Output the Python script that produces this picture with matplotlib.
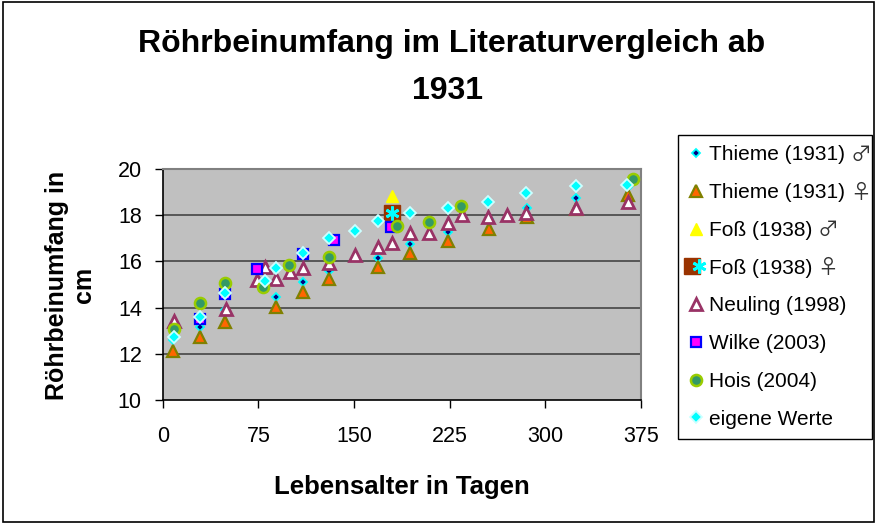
import matplotlib
matplotlib.use("Agg")
import matplotlib.pyplot as plt
from matplotlib.patches import Rectangle
from matplotlib.legend_handler import HandlerTuple

plt.rcParams['font.family'] = ['Liberation Sans', 'DejaVu Sans']

# Circumference data (cm) over age (days)
thieme_m_days = [8, 29, 49, 89, 110, 130, 169, 194, 224, 256, 286, 324, 365]
thieme_m_vals = [12.6, 13.17, 13.9, 14.47, 15.12, 15.6, 16.13, 16.75, 17.29, 17.85, 18.32, 18.76, 19.24]

thieme_w_days = [8, 29, 49, 89, 110, 130, 169, 194, 224, 256, 286, 324, 365]
thieme_w_vals = [12.12, 12.71, 13.39, 14.01, 14.69, 15.22, 15.74, 16.35, 16.88, 17.39, 17.92, 18.25, 18.87]

foss_m_days = [180]
foss_m_vals = [18.83]

foss_w_days = [180]
foss_w_vals = [18.11]

neuling_days = [9, 50, 74, 80, 89, 100, 110, 130, 151, 169, 180, 194, 209, 224, 235, 255, 270, 285, 324, 365]
neuling_vals = [13.42, 13.93, 15.19, 15.74, 15.22, 15.56, 15.73, 15.92, 16.28, 16.61, 16.81, 17.24, 17.21,
                17.68, 18.0, 17.91, 18.0, 18.08, 18.3, 18.58]

wilke_days = [29, 49, 74, 110, 134, 179]
wilke_vals = [13.52, 14.59, 15.66, 16.32, 16.93, 17.48]

hois_days = [9, 29, 49, 79, 99, 130, 184, 209, 234, 369]
hois_vals = [13.07, 14.19, 15.05, 14.88, 15.84, 16.17, 17.53, 17.72, 18.41, 19.55]

eigene_days = [9, 29, 49, 80, 89, 110, 130, 151, 169, 194, 224, 255, 285, 324, 364]
eigene_vals = [12.74, 13.6, 14.65, 15.17, 15.7, 16.38, 17.0, 17.32, 17.76, 18.11, 18.3, 18.56, 18.97, 19.26, 19.31]

# Series names and the sex sign that follows some of them
series_names = ["Thieme (1931)", "Thieme (1931)", "Fo\u00df (1938)", "Fo\u00df (1938)",
                "Neuling (1998)", "Wilke (2003)", "Hois (2004)", "eigene Werte"]
sex_signs = ["\u2642", "\u2640", "\u2642", "\u2640", "", "", "", ""]

x_ticks = [0, 75, 150, 225, 300, 375]
y_ticks = [10, 12, 14, 16, 18, 20]

W, H = 877, 524
fig = plt.figure(figsize=(W / 100, H / 100), dpi=100)
fig.patch.set_facecolor('white')
fig.add_artist(Rectangle((0.003, 0.004), 0.994, 0.992, transform=fig.transFigure,
                         fill=False, edgecolor='black', linewidth=1.2))

ax = fig.add_axes([162.7 / W, 1 - 400 / H, (641 - 162.7) / W, (400 - 169) / H])
ax.set_facecolor('#C0C0C0')
ax.set_xlim(0, 375)
ax.set_ylim(10, 20)
ax.set_xticks(x_ticks)
ax.set_yticks(y_ticks)
ax.tick_params(axis='both', direction='out', length=6, width=1, labelsize=15.5, colors='black')
ax.tick_params(axis='x', pad=13)
ax.tick_params(axis='y', pad=9)
for y in y_ticks[1:-1]:
    ax.axhline(y, color='#3a3a3a', linewidth=1.1, zorder=1)
for side in ['top', 'right']:
    ax.spines[side].set_color('#808080')
    ax.spines[side].set_linewidth(1.5)
for side in ['left', 'bottom']:
    ax.spines[side].set_color('black')
    ax.spines[side].set_linewidth(1.2)

h1, = ax.plot(thieme_m_days, thieme_m_vals, ls='none', marker='D', ms=4.5,
              mfc='#000080', mec='#00FFFF', mew=1.3, zorder=3)
h2, = ax.plot(thieme_w_days, thieme_w_vals, ls='none', marker='^', ms=8,
              mfc='#FF6600', mec='#808000', mew=1.6, zorder=4)
h3, = ax.plot(foss_m_days, foss_m_vals, ls='none', marker='^', ms=9,
              mfc='#FFFF00', mec='#FFFF00', mew=1, zorder=5)
h4a, = ax.plot(foss_w_days, foss_w_vals, ls='none', marker='s', ms=12,
               mfc='#993300', mec='#993300', mew=1, zorder=6)
h4b, = ax.plot(foss_w_days, foss_w_vals, ls='none', marker=(6, 2, 0), ms=10,
               mec='#00FFFF', mew=2, zorder=6)
h5, = ax.plot(neuling_days, neuling_vals, ls='none', marker='^', ms=8,
              mfc='white', mec='#993366', mew=2, zorder=7)
h6, = ax.plot(wilke_days, wilke_vals, ls='none', marker='s', ms=7,
              mfc='#FF00FF', mec='#0000FF', mew=1.6, zorder=8)
h7, = ax.plot(hois_days, hois_vals, ls='none', marker='o', ms=8,
              mfc='#339966', mec='#99CC00', mew=1.8, zorder=9)
h8, = ax.plot(eigene_days, eigene_vals, ls='none', marker='D', ms=6,
              mfc='#00FFFF', mec='#CCFFFF', mew=1.3, zorder=10)

# Axis titles
fig.text(401.8 / W, 1 - 487 / H, "Lebensalter in Tagen", ha='center', va='center',
         fontsize=18.5, fontweight='bold')
fig.text(70.5 / W, 1 - 285 / H, "R\u00f6hrbeinumfang in\ncm", ha='center', va='center',
         rotation=90, fontsize=18, fontweight='bold', linespacing=1.15, multialignment='center')

# Chart title
fig.text(452 / W, 1 - 44 / H, "R\u00f6hrbeinumfang im Literaturvergleich ab", ha='center', va='center',
         fontsize=23, fontweight='bold')
fig.text(448 / W, 1 - 91 / H, "1931", ha='center', va='center',
         fontsize=23, fontweight='bold')

# Legend without its own frame; the frame is drawn wide enough for the sex signs
leg_size = 15
leg = fig.legend([h1, h2, h3, (h4a, h4b), h5, h6, h7, h8], series_names,
                 handler_map={tuple: HandlerTuple(ndivide=None, pad=0)},
                 loc='upper left', bbox_to_anchor=(678 / W, 1 - 135 / H), fontsize=leg_size,
                 frameon=False, handlelength=0.7, handletextpad=0.3, labelspacing=0.9,
                 borderpad=0.5, borderaxespad=0)

fig.canvas.draw()
renderer = fig.canvas.get_renderer()
lb = leg.get_window_extent(renderer)
fig.add_artist(Rectangle((lb.x0 / W, lb.y0 / H), (872 - lb.x0) / W, (lb.y1 - lb.y0) / H,
                         transform=fig.transFigure, facecolor='white', edgecolor='black',
                         linewidth=1, zorder=leg.get_zorder() - 0.1))
for t, sign in zip(leg.get_texts(), sex_signs):
    if not sign:
        continue
    bb = t.get_window_extent(renderer)
    fig.text((bb.x1 + 5) / W, (bb.y0 + bb.y1) / 2 / H, sign, ha='left', va='center',
             fontsize=leg_size, color='#333333', zorder=20,
             family=['Noto Sans CJK JP', 'DejaVu Sans'])

fig.savefig("out.png", dpi=100)
